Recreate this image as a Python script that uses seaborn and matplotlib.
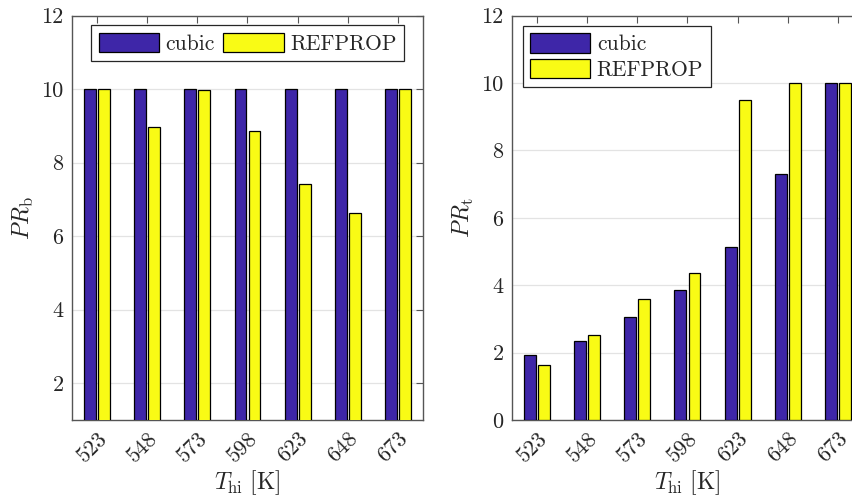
import numpy as np
import pandas as pd
import seaborn as sns
import matplotlib.pyplot as plt

# data
temps = ["523", "548", "573", "598", "623", "648", "673"]
models = ["cubic", "REFPROP"]
prb_cubic = [10, 10, 10, 10, 10, 10, 10]
prb_refprop = [10, 8.97, 9.98, 8.87, 7.41, 6.63, 10]
prt_cubic = [1.92, 2.33, 3.07, 3.85, 5.13, 7.31, 10]
prt_refprop = [1.63, 2.53, 3.58, 4.36, 9.50, 10, 10]

blue = "#3E26A8"
yellow = "#F9FB15"

sns.set_theme(style="white")
plt.rcParams["font.family"] = "serif"
plt.rcParams["font.serif"] = ["cmr10"]
plt.rcParams["mathtext.fontset"] = "cm"
plt.rcParams["axes.unicode_minus"] = False


def long_df(a, b):
    return pd.DataFrame({
        "T": temps * 2,
        "PR": list(a) + list(b),
        "model": [models[0]] * len(temps) + [models[1]] * len(temps),
    })


fig = plt.figure(figsize=(8.53, 5.01), dpi=100)
ax1 = fig.add_axes([0.0844, 0.1617, 0.4115, 0.807])
ax2 = fig.add_axes([0.6002, 0.1617, 0.4115, 0.807])

panels = [
    (ax1, long_df(prb_cubic, prb_refprop), (1, 12), r"$PR_{\mathrm{b}}$"),
    (ax2, long_df(prt_cubic, prt_refprop), (0, 12), r"$PR_{\mathrm{t}}$"),
]

for ax, df, ylim, ylab in panels:
    sns.barplot(data=df, x="T", y="PR", hue="model", palette=[blue, yellow],
                saturation=1, width=0.56, gap=0.15, edgecolor="black",
                linewidth=0.9, ax=ax, zorder=3)
    ax.set_xlim(-0.5, 6.5)
    ax.set_ylim(*ylim)
    ax.set_yticks(np.arange(ylim[0] + ylim[0] % 2, 13, 2))
    ax.yaxis.grid(True, color="#e3e3e3", linewidth=0.9, zorder=0)
    ax.set_axisbelow(True)
    ax.set_xticks(range(len(temps)))
    ax.set_xticklabels(temps, rotation=45, ha="right", va="top",
                       rotation_mode="anchor")
    ax.tick_params(axis="both", direction="in", length=5, width=0.8,
                   color="#555555", labelsize=16, labelcolor="#262626",
                   top=True, right=True, pad=6)
    for s in ax.spines.values():
        s.set_color("#555555")
        s.set_linewidth(1.0)
    ax.set_xlabel(r"$T_{\mathrm{hi}}\ [\mathrm{K}]$", fontsize=17,
                  color="#262626", labelpad=2)
    ax.set_ylabel(ylab, fontsize=17, color="#262626", labelpad=4)
    h, l = ax.get_legend_handles_labels()
    ax.get_legend().remove()
    if ax is ax1:
        leg = ax.legend(h, l, ncol=2, loc="upper center", fontsize=15.5,
                        handlelength=2.8, handleheight=1.0, handletextpad=0.3,
                        columnspacing=0.4, borderpad=0.35, fancybox=False,
                        borderaxespad=0, bbox_to_anchor=(0.5, 0.977))
    else:
        leg = ax.legend(h, l, loc="upper left", fontsize=15.5,
                        handlelength=2.8, handleheight=1.0, handletextpad=0.3,
                        labelspacing=0.2, borderpad=0.35, fancybox=False,
                        borderaxespad=0, bbox_to_anchor=(0.03, 0.975))
    leg.get_frame().set_edgecolor("#262626")
    leg.get_frame().set_linewidth(0.9)
    leg.get_frame().set_alpha(1)

fig.savefig("out.png", dpi=100)
